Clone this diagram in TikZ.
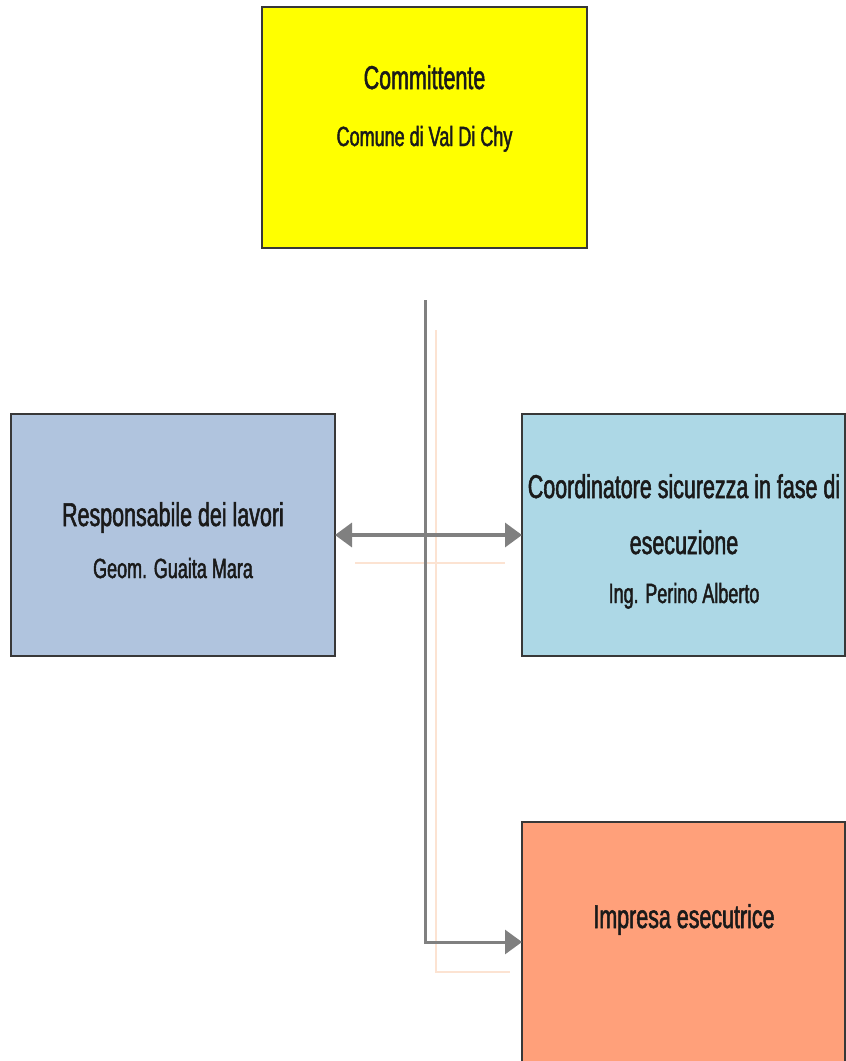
\documentclass[tikz,border=0pt]{standalone}
\usepackage{fontspec}
\setmainfont{Liberation Sans}[FakeStretch=0.65,FakeBold=1.6]
\usetikzlibrary{arrows.meta,calc}
\definecolor{cyellow}{HTML}{FFFF00}
\definecolor{csteel}{HTML}{B0C4DE}
\definecolor{clblue}{HTML}{ADD8E6}
\definecolor{csalmon}{HTML}{FFA07A}
\definecolor{cgray}{HTML}{808080}
\definecolor{cshadow}{HTML}{FCE3D2}
\definecolor{ctext}{HTML}{1A1A1A}
\begin{document}
\begin{tikzpicture}[x=1pt,y=-1pt,
  box/.style={draw=black!78, line width=1.6pt, inner sep=0pt, outer sep=0pt},
  big/.style={font=\fontsize{33}{37}\selectfont, text=ctext, inner sep=0pt, anchor=base},
  small/.style={font=\fontsize{27.7}{31}\selectfont, text=ctext, inner sep=0pt, anchor=base},
  conn/.style={draw=cgray, line width=3.5pt},
  ghost/.style={draw=cshadow, line width=2pt}]
\useasboundingbox (0,0) rectangle (846,1061);

% boxes
\node[box, fill=cyellow, minimum width=325pt, minimum height=241pt] (comm) at (424.5,127.5) {};
\node[box, fill=csteel, minimum width=324pt, minimum height=242pt] (resp) at (173,535) {};
\node[box, fill=clblue, minimum width=323pt, minimum height=242pt] (coord) at (683.5,535) {};
\node[box, fill=csalmon, minimum width=323pt, minimum height=240pt] (imp) at (683.5,942) {};

% texts (base line positions)
\node[big] (commt) at (424.5,89) {Committente};
\node[small] (comms) at (424.5,146) {Comune di Val Di Chy};
\node[big] (respt) at (173,526) {Responsabile dei lavori};
\node[small] (resps) at (173,578) {Geom. Guaita Mara};
\node[big] (coordt1) at (684,498) {Coordinatore sicurezza in fase di};
\node[big] (coordt2) at (684,554) {esecuzione};
\node[small] (coords) at (684,603) {Ing. Perino Alberto};
\node[big] (impt) at (684,928) {Impresa esecutrice};

% ghost shadows of connectors
\coordinate (gtop) at (436,330);
\coordinate (gcorner) at (436,972);
\coordinate (gend) at (510,972);
\coordinate (gl) at (355,563);
\coordinate (gr) at (505,563);
\draw[ghost] (gtop) -- (gcorner) -- (gend);
\draw[ghost] (gl) -- (gr);

% connectors
\coordinate (top) at (425,300);
\draw[conn, line width=3pt, -{Triangle[length=17pt,width=24pt]}] (top) |- (imp.west);
\draw[conn, {Triangle[length=17pt,width=24pt]}-{Triangle[length=17pt,width=24pt]}] (resp.east) -- (coord.west);
\end{tikzpicture}
\end{document}
